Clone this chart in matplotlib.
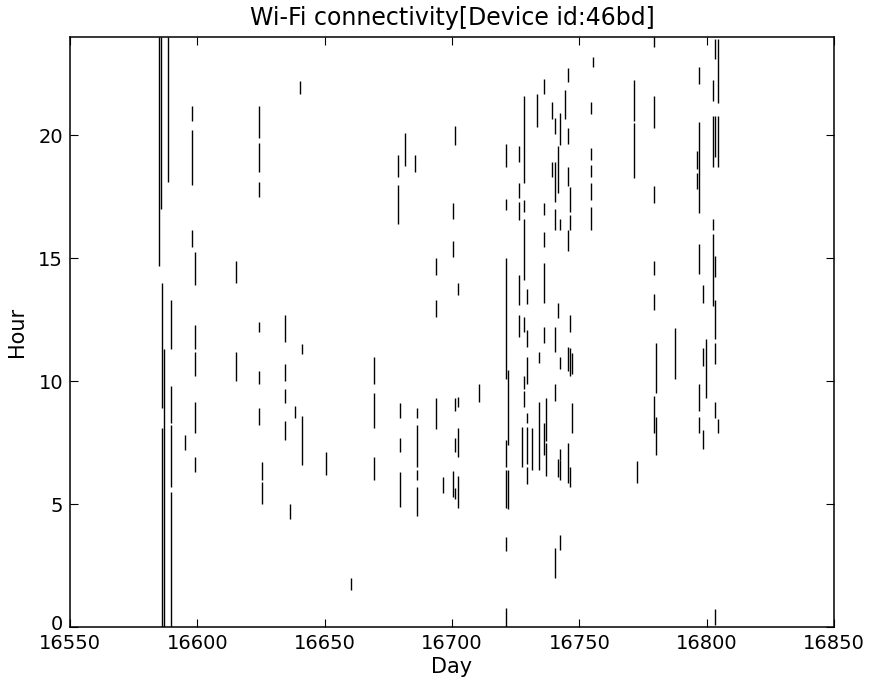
import matplotlib
matplotlib.use("Agg")
import matplotlib.pyplot as plt
import matplotlib.transforms as mtransforms

segments = [
    (16585.1, 24, 14.7), (16585.7, 24, 17.0), (16586.0, 14.0, 8.9), (16586.0, 8.1, 0),
    (16587.0, 11.3, 0), (16588.4, 24, 18.1), (16589.5, 13.3, 11.3), (16589.5, 9.8, 8.3),
    (16589.5, 8.2, 5.7), (16589.5, 5.5, 0), (16595.2, 7.8, 7.2),
    (16598.0, 21.2, 20.6), (16598.0, 20.2, 18.0), (16598.0, 16.15, 15.45),
    (16599.1, 15.25, 13.9), (16599.1, 12.3, 11.3), (16599.1, 11.2, 10.2),
    (16599.1, 9.15, 7.9), (16599.1, 6.9, 6.3),
    (16615.2, 14.9, 14.0), (16615.2, 11.2, 10.0),
    (16624.2, 21.2, 19.9), (16624.2, 19.7, 18.5), (16624.2, 18.1, 17.5),
    (16624.2, 12.4, 12.0), (16624.2, 10.4, 9.9), (16624.2, 8.9, 8.2),
    (16625.3, 6.7, 6.0), (16625.3, 5.9, 5.0),
    (16634.4, 12.7, 11.6), (16634.4, 10.7, 10.0), (16634.4, 9.7, 9.1), (16634.4, 8.4, 7.6),
    (16636.4, 5.0, 4.4), (16638.3, 9.0, 8.5), (16640.3, 22.2, 21.7),
    (16641.2, 11.5, 11.1), (16641.2, 8.6, 6.6), (16650.4, 7.1, 6.2), (16660.2, 2.0, 1.5),
    (16669.4, 11.0, 9.9), (16669.4, 9.5, 8.1), (16669.4, 6.9, 6.0),
    (16678.7, 19.2, 18.3), (16678.7, 18.0, 16.4),
    (16679.4, 9.1, 8.5), (16679.4, 7.7, 7.1), (16679.4, 6.3, 4.9),
    (16681.4, 20.1, 18.75), (16685.3, 19.2, 18.5),
    (16686.2, 8.9, 8.5), (16686.2, 8.2, 6.5), (16686.2, 6.4, 6.0), (16686.2, 5.7, 4.5),
    (16693.7, 15.0, 14.3), (16693.7, 13.3, 12.6), (16693.7, 9.3, 8.05),
    (16696.3, 6.1, 5.45),
    (16700.2, 17.25, 16.6), (16700.2, 15.7, 15.05), (16700.2, 6.35, 5.3),
    (16701.3, 20.4, 19.6), (16701.3, 9.3, 8.8), (16701.3, 7.7, 7.1), (16701.3, 5.65, 5.2),
    (16702.3, 14.0, 13.5), (16702.3, 9.35, 8.95), (16702.3, 8.1, 6.9), (16702.3, 6.15, 4.85),
    (16710.6, 9.9, 9.15),
    (16721.2, 19.65, 18.7), (16721.2, 17.4, 16.95), (16721.2, 15.0, 10.1),
    (16721.2, 7.6, 6.5), (16721.2, 6.4, 4.85), (16721.2, 3.65, 3.1), (16721.2, 0.77, 0.0),
    (16722.1, 10.45, 7.4), (16722.1, 6.4, 4.8),
    (16726.4, 19.55, 18.9), (16726.4, 18.05, 17.45), (16726.4, 17.3, 16.55),
    (16726.4, 14.3, 13.1), (16726.4, 12.7, 11.8), (16727.4, 8.15, 6.5),
    (16728.3, 21.6, 18.05), (16728.3, 17.35, 16.9), (16728.3, 16.6, 14.1),
    (16728.3, 12.6, 12.0), (16728.3, 10.2, 9.7), (16728.3, 9.6, 8.95),
    (16729.3, 13.75, 13.15), (16729.3, 12.1, 11.4), (16729.3, 11.0, 9.9),
    (16729.3, 8.7, 8.3), (16729.3, 8.15, 6.65), (16729.3, 6.5, 5.8),
    (16731.3, 8.1, 6.4), (16733.2, 21.7, 20.35),
    (16734.2, 11.2, 10.75), (16734.2, 9.15, 6.4),
    (16736.1, 22.3, 21.7), (16736.1, 17.25, 16.75), (16736.1, 16.05, 15.45),
    (16736.1, 14.8, 13.2), (16736.1, 12.2, 11.55), (16736.1, 8.3, 7.0),
    (16737.0, 9.3, 7.55), (16737.0, 7.5, 6.15),
    (16739.4, 21.35, 20.65), (16739.4, 18.9, 18.3),
    (16740.4, 20.7, 20.05), (16740.4, 18.9, 17.3), (16740.4, 17.0, 16.15),
    (16740.4, 12.2, 11.2), (16740.4, 9.9, 9.2), (16740.4, 3.2, 2.0),
    (16741.5, 19.55, 17.65), (16741.5, 13.2, 12.55), (16741.5, 6.85, 6.1),
    (16742.4, 20.9, 19.6), (16742.4, 16.6, 16.15), (16742.4, 11.0, 10.5),
    (16742.4, 7.25, 6.8), (16742.4, 6.8, 6.0), (16742.4, 3.75, 3.15),
    (16744.4, 21.85, 20.65),
    (16745.4, 22.75, 22.15), (16745.4, 20.3, 19.65), (16745.4, 18.7, 17.95),
    (16745.4, 16.15, 15.3), (16745.4, 11.4, 10.4), (16745.4, 7.5, 5.85),
    (16746.3, 17.9, 16.9), (16746.3, 16.75, 16.15), (16746.3, 12.7, 12.0),
    (16746.3, 11.35, 10.2), (16746.3, 6.5, 5.7),
    (16747.2, 11.15, 10.3), (16747.2, 9.1, 7.9),
    (16754.4, 21.35, 20.85), (16754.4, 19.5, 19.0), (16754.4, 18.8, 18.3),
    (16754.4, 18.05, 17.35), (16754.4, 17.1, 16.15), (16755.5, 23.2, 22.8),
    (16771.5, 22.25, 20.6), (16771.5, 20.5, 18.25), (16772.5, 6.75, 5.85),
    (16779.3, 24.0, 23.6), (16779.3, 21.6, 20.3), (16779.3, 17.95, 17.25),
    (16779.3, 14.9, 14.3), (16779.3, 13.55, 12.9), (16779.3, 9.4, 7.9),
    (16780.1, 11.55, 9.5), (16780.1, 8.55, 7.0), (16787.6, 12.15, 10.1),
    (16796.3, 19.35, 18.65), (16796.3, 18.45, 17.8),
    (16797.1, 22.8, 22.1), (16797.1, 20.55, 16.85), (16797.1, 15.6, 14.35),
    (16797.1, 9.9, 8.8), (16797.1, 8.55, 7.9),
    (16798.4, 13.9, 13.2), (16798.7, 11.35, 10.6), (16798.7, 8.0, 7.25),
    (16799.6, 11.7, 9.3),
    (16802.6, 22.25, 21.4), (16802.6, 20.8, 18.7), (16802.6, 16.6, 16.15), (16802.6, 16.0, 13.05),
    (16803.4, 23.9, 23.1), (16803.4, 20.8, 19.1), (16803.4, 15.1, 14.25),
    (16803.4, 13.3, 11.7), (16803.4, 11.55, 10.7), (16803.4, 9.15, 8.5), (16803.4, 0.75, 0.1),
    (16804.3, 23.9, 21.3), (16804.3, 20.8, 18.7), (16804.3, 8.45, 7.9),
]

days = [s[0] for s in segments]
start_hours = [s[1] for s in segments]
end_hours = [s[2] for s in segments]

x_ticks = [16550, 16600, 16650, 16700, 16750, 16800, 16850]
y_ticks = [0, 5, 10, 15, 20]

plt.rcParams['font.family'] = ['DejaVu Sans']
fig = plt.figure(figsize=(8.69, 6.82), dpi=100)
ax = fig.add_axes([70 / 869, 55 / 682, 764 / 869, 590 / 682])

ax.vlines(days, start_hours, end_hours, colors='black', linewidth=1.0)

ax.set_xlim(16550, 16850)
ax.set_ylim(0, 24)
ax.set_xticks(x_ticks)
ax.set_yticks(y_ticks)
ax.tick_params(direction='in', length=6, width=0.8, top=True, right=True,
               labelsize=14)
ax.tick_params(axis='x', pad=5)
ax.tick_params(axis='y', pad=5)
for sp in ax.spines.values():
    sp.set_linewidth(1.1)
ax.set_xlabel('Day', fontsize=15, labelpad=3)
ax.set_ylabel('Hour', fontsize=15, labelpad=8)
ax.set_title('Wi-Fi connectivity[Device id:46bd]', fontsize=17, pad=9)

# nudge the "0" y tick label slightly upward, as in the reference
fig.canvas.draw()
lbl0 = ax.yaxis.get_majorticklabels()[0]
lbl0.set_transform(lbl0.get_transform() +
                   mtransforms.ScaledTranslation(0, 5 / 100, fig.dpi_scale_trans))

fig.savefig('out.png', dpi=100)
